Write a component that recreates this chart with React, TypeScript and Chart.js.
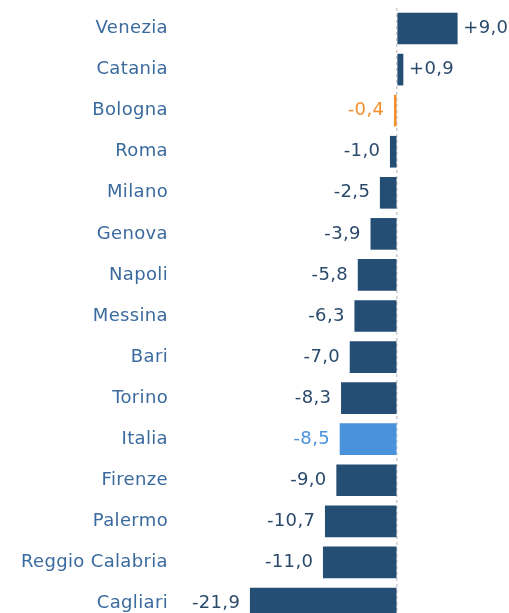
import React, { useEffect, useRef } from "react";
import { Chart, registerables } from "chart.js";

Chart.register(...registerables);

const cities = [
  "Venezia", "Catania", "Bologna", "Roma", "Milano", "Genova", "Napoli", "Messina",
  "Bari", "Torino", "Italia", "Firenze", "Palermo", "Reggio Calabria", "Cagliari",
];
const values = [9.0, 0.9, -0.4, -1.0, -2.5, -3.9, -5.8, -6.3, -7.0, -8.3, -8.5, -9.0, -10.7, -11.0, -21.9];

const NAVY = "#254e74";
const ORANGE = "#f28e2b";
const LIGHT = "#4a92dc";
const barColors = cities.map((c) => (c === "Bologna" ? ORANGE : c === "Italia" ? LIGHT : NAVY));
const labelColors = cities.map((c) => (c === "Bologna" ? ORANGE : c === "Italia" ? LIGHT : "#2b4a6b"));

const FONT = "'DejaVu Sans', sans-serif";
const FSIZE = 18;
const SPACING = "0.35px";

const fmt = (v: number) => (v > 0 ? "+" : "") + v.toFixed(1).replace(".", ",");

const spacingPlugin = {
  id: "spacing",
  beforeLayout(chart: any) {
    chart.ctx.letterSpacing = SPACING;
  },
  beforeDraw(chart: any) {
    chart.ctx.letterSpacing = SPACING;
  },
};

const valueLabels = {
  id: "valueLabels",
  afterDatasetsDraw(chart: any) {
    const ctx = chart.ctx;
    const meta = chart.getDatasetMeta(0);
    ctx.save();
    ctx.letterSpacing = SPACING;
    ctx.font = `${FSIZE}px ${FONT}`;
    ctx.textBaseline = "middle";
    meta.data.forEach((bar: any, i: number) => {
      const v = values[i];
      ctx.fillStyle = labelColors[i];
      if (v >= 0) {
        ctx.textAlign = "left";
        ctx.fillText(fmt(v), bar.x + 6, bar.y);
      } else {
        ctx.textAlign = "right";
        ctx.fillText(fmt(v), bar.x - 10, bar.y);
      }
    });
    ctx.restore();
  },
};

export default function App() {
  const ref = useRef<HTMLCanvasElement>(null);
  useEffect(() => {
    if (!ref.current) return;
    const chart = new Chart(ref.current, {
      type: "bar",
      data: {
        labels: cities,
        datasets: [
          {
            data: values,
            backgroundColor: barColors,
            barThickness: 31,
          },
        ],
      },
      options: {
        indexAxis: "y",
        responsive: false,
        animation: false,
        devicePixelRatio: 1,
        layout: { padding: { top: 8, right: 0, bottom: 0, left: 0 } },
        plugins: { legend: { display: false }, tooltip: { enabled: false } },
        scales: {
          x: {
            min: -33.13,
            max: 16.72,
            ticks: { display: false, stepSize: 10 },
            border: { display: false, dash: [3, 3] },
            grid: {
              drawTicks: false,
              color: (c: any) => (c.tick && c.tick.value === 0 ? "#cccccc" : "rgba(0,0,0,0)"),
              lineWidth: 1.5,
            },
            afterFit: (s: any) => {
              s.height = 0;
              s.paddingLeft = 0;
              s.paddingRight = 0;
            },
          },
          y: {
            grid: { display: false, drawTicks: false },
            border: { display: false },
            ticks: {
              color: "#3a6a9e",
              font: { family: FONT, size: FSIZE },
              padding: 7,
            },
            afterFit: (s: any) => {
              s.width = 175;
              s.paddingTop = 0;
              s.paddingBottom = 0;
            },
          },
        },
      },
      plugins: [spacingPlugin, valueLabels],
    } as any);
    return () => chart.destroy();
  }, []);
  return (
    <div style={{ position: "fixed", left: 0, top: 0, width: 509, height: 613, overflow: "hidden", background: "#fff" }}>
      <canvas ref={ref} width={509} height={624} style={{ display: "block" }} />
    </div>
  );
}
